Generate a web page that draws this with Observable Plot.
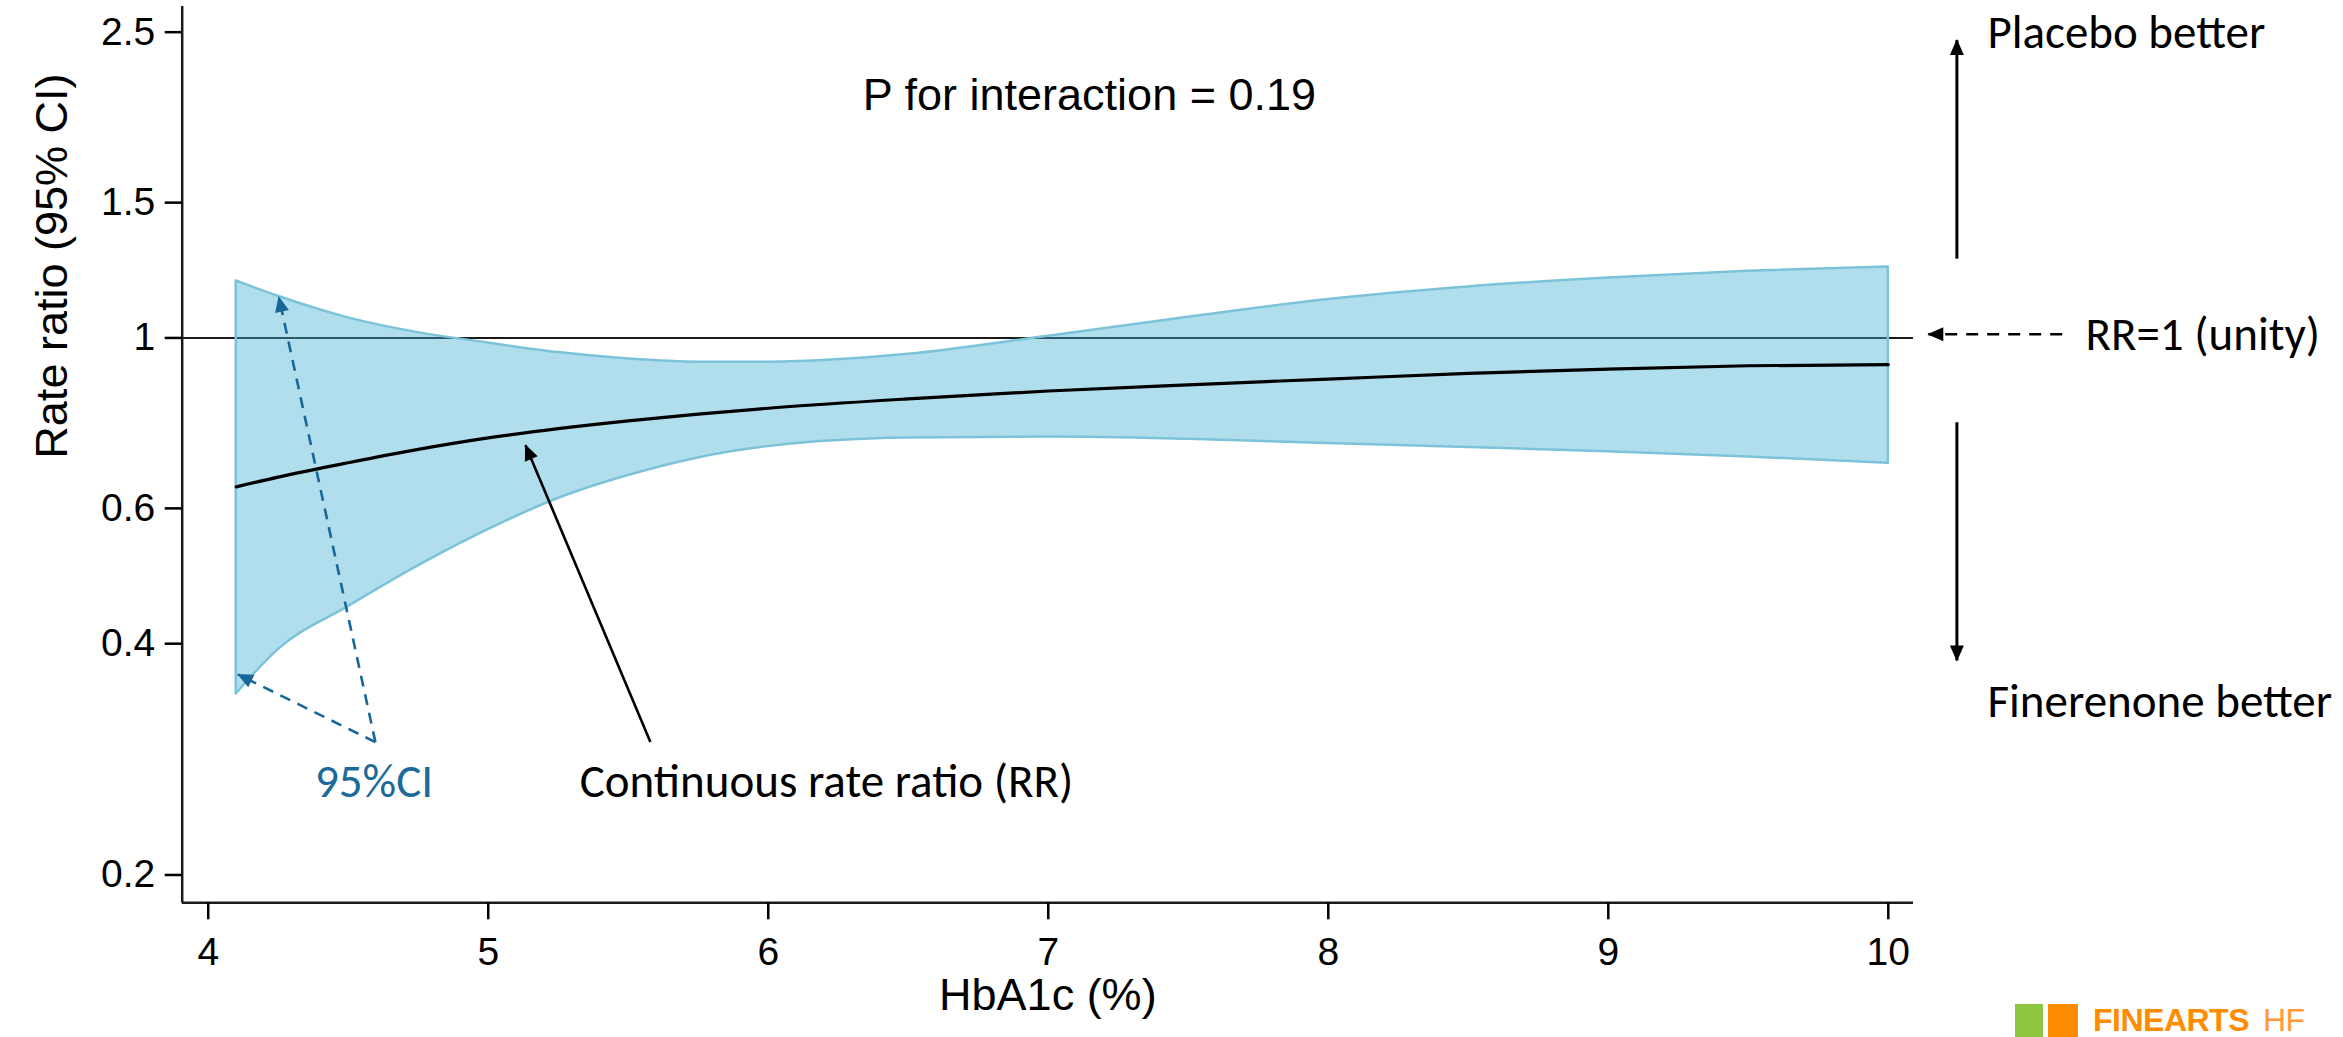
<!DOCTYPE html>
<html>
<head>
<meta charset="utf-8">
<script src="https://cdn.jsdelivr.net/npm/d3@7"></script>
<script src="https://cdn.jsdelivr.net/npm/@observablehq/plot@0.6"></script>
<style>
  html, body { margin: 0; padding: 0; background: #fff; }
  #wrap { position: relative; width: 2343px; height: 1037px; overflow: hidden; background: #fff; }
  #wrap svg { display: block; }
  #wm { position: absolute; left: 2015px; top: 1004px; height: 33px; white-space: nowrap; font-family: 'Liberation Sans', Arial, sans-serif; }
  #wm .g { position: absolute; left: 0; top: 0; width: 28px; height: 33px; background: #8dc63f; }
  #wm .o { position: absolute; left: 33px; top: 0; width: 30px; height: 33px; background: #ff8c00; }
  #wm .t { position: absolute; left: 78px; top: 0px; font-size: 32px; line-height: 32px; font-weight: bold; color: #ff8c00; letter-spacing: -0.5px; }
  #wm .t span { font-weight: normal; color: #ff9a3a; margin-left: 14px; }
</style>
</head>
<body>
<div id="wrap"></div>
<script>
// ---------- data ----------
const hba1c     = [4.10, 4.25, 4.50, 4.75, 5.00, 5.25, 5.50, 5.75, 6.00, 6.50, 7.00, 7.50, 8.00, 8.50, 9.00, 9.50, 10.00];
const rateRatio = [0.640, 0.659, 0.688, 0.716, 0.741, 0.762, 0.780, 0.796, 0.810, 0.833, 0.853, 0.869, 0.884, 0.899, 0.911, 0.920, 0.923];
const ciLower   = [0.344, 0.393, 0.447, 0.505, 0.563, 0.618, 0.662, 0.698, 0.722, 0.741, 0.743, 0.738, 0.729, 0.720, 0.711, 0.700, 0.687];
const ciUpper   = [1.186, 1.133, 1.062, 1.016, 0.985, 0.957, 0.939, 0.930, 0.930, 0.952, 1.005, 1.064, 1.122, 1.165, 1.197, 1.221, 1.237];

const xTicks = [4, 5, 6, 7, 8, 9, 10];
const yTicks = [0.2, 0.4, 0.6, 1, 1.5, 2.5];
const yTickLabels = ["0.2", "0.4", "0.6", "1", "1.5", "2.5"];
const unity = [1];

const xTitle = "HbA1c (%)";
const yTitle = "Rate ratio (95% CI)";
const pText = "P for interaction = 0.19";

// annotation labels and their anchor points (data units)
const noteLabels = ["Placebo better", "RR=1 (unity)", "Finerenone better", "95%CI", "Continuous rate ratio (RR)"];
const noteX      = [10.354, 10.704, 10.354, 4.592, 6.208];
const noteY      = [2.493, 1.008, 0.3364, 0.2643, 0.2643];
const noteAnchor = ["start", "start", "start", "middle", "middle"];
const noteColor  = ["black", "black", "black", "#1b6a9b", "black"];

// pointer arrows (data units): from (x1,y1) to (x2,y2)
const arrowX1 = [4.597, 4.597, 5.579, 10.621, 10.245, 10.245];
const arrowY1 = [0.2978, 0.2978, 0.298, 1.011, 1.268, 0.7767];
const arrowX2 = [4.252, 4.106, 5.133, 10.143, 10.245, 10.245];
const arrowY2 = [1.131, 0.3648, 0.725, 1.011, 2.442, 0.3804];
const arrowKind = ["ci", "ci", "rr", "unity", "dir", "dir"];

// ---------- tables ----------
const band = hba1c.map((x, i) => ({x, rr: rateRatio[i], lo: ciLower[i], hi: ciUpper[i]}));
const notes = noteLabels.map((t, i) => ({t, x: noteX[i], y: noteY[i], a: noteAnchor[i], c: noteColor[i]}));
const arrows = arrowX1.map((x1, i) => ({x1, y1: arrowY1[i], x2: arrowX2[i], y2: arrowY2[i], k: arrowKind[i]}));

const xDomain = [3.907, 10.09];
const yDomain = [0.184, 2.70];

const NS = "http://www.w3.org/2000/svg";
function triMarker(color) {
  const m = document.createElementNS(NS, "marker");
  m.setAttribute("viewBox", "-17 -9 19 18");
  m.setAttribute("markerUnits", "userSpaceOnUse");
  m.setAttribute("markerWidth", "19");
  m.setAttribute("markerHeight", "18");
  m.setAttribute("refX", "0");
  m.setAttribute("refY", "0");
  m.setAttribute("orient", "auto");
  const p = document.createElementNS(NS, "path");
  p.setAttribute("d", "M-15,-7L1,0L-15,7Z");
  p.setAttribute("fill", color);
  p.setAttribute("stroke", "none");
  m.appendChild(p);
  return m;
}

const annoFont = "Carlito, Lato, 'Open Sans', sans-serif";
const ciBlue = "#17679b";

const chart = Plot.plot({
  width: 2343,
  height: 1037,
  marginLeft: 181.7,
  marginRight: 430,
  marginTop: 6,
  marginBottom: 134.7,
  x: {domain: xDomain, label: null},
  y: {type: "log", domain: yDomain, label: null},
  style: {fontFamily: "'Liberation Sans', Arial, sans-serif", background: "white", color: "black", overflow: "visible"},
  marks: [
    Plot.ruleY(unity, {stroke: "#1a1a1a", strokeWidth: 2}),
    Plot.areaY(band, {x: "x", y1: "lo", y2: "hi", fill: "#46b0d3", fillOpacity: 0.42, stroke: "#7cc3da", strokeWidth: 2.5, curve: "monotone-x"}),
    Plot.line(band, {x: "x", y: "rr", stroke: "black", strokeWidth: 3.2, curve: "monotone-x"}),
    Plot.ruleX([xDomain[0]], {stroke: "#1a1a1a", strokeWidth: 2.5}),
    Plot.ruleY([yDomain[0]], {stroke: "#1a1a1a", strokeWidth: 2.5}),
    Plot.axisY({ticks: yTicks, tickFormat: (d) => yTickLabels[yTicks.indexOf(d)], tickSize: 17, tickPadding: 10, fontSize: 39, strokeWidth: 2.5, label: null}),
    Plot.axisX({ticks: xTicks, tickFormat: (d) => String(d), tickSize: 17, tickPadding: 17, fontSize: 39, strokeWidth: 2.5, label: null}),
    Plot.text([xTitle], {frameAnchor: "bottom", dy: 107, fontSize: 45, text: (d) => d}),
    Plot.text([yTitle], {frameAnchor: "left", dx: -130, dy: 4, rotate: -90, fontSize: 45, text: (d) => d}),
    Plot.text([pText], {x: 7.147, y: 2.07, text: (d) => d, fontSize: 45, textAnchor: "middle"}),
    Plot.text(notes.filter((d) => d.a === "start"), {x: "x", y: "y", text: "t", textAnchor: "start", fill: "c", fontSize: 47, fontFamily: annoFont}),
    Plot.text(notes.filter((d) => d.a === "middle"), {x: "x", y: "y", text: "t", textAnchor: "middle", fill: (d) => d.c, fontSize: 47, fontFamily: annoFont}),
    Plot.link(arrows.filter((d) => d.k === "ci"), {x1: "x1", y1: "y1", x2: "x2", y2: "y2", stroke: ciBlue, strokeWidth: 2.6, strokeDasharray: "11,8", markerEnd: triMarker}),
    Plot.link(arrows.filter((d) => d.k === "rr"), {x1: "x1", y1: "y1", x2: "x2", y2: "y2", stroke: "black", strokeWidth: 2.6, markerEnd: triMarker}),
    Plot.link(arrows.filter((d) => d.k === "unity"), {x1: "x1", y1: "y1", x2: "x2", y2: "y2", stroke: "black", strokeWidth: 2.4, strokeDasharray: "12,9", markerEnd: triMarker}),
    Plot.link(arrows.filter((d) => d.k === "dir"), {x1: "x1", y1: "y1", x2: "x2", y2: "y2", stroke: "black", strokeWidth: 3, markerEnd: triMarker})
  ]
});

const wrap = document.getElementById("wrap");
wrap.appendChild(chart);
const wm = document.createElement("div");
wm.id = "wm";
wm.innerHTML = '<div class="g"></div><div class="o"></div><div class="t">FINEARTS<span>HF</span></div>';
wrap.appendChild(wm);
</script>
</body>
</html>
